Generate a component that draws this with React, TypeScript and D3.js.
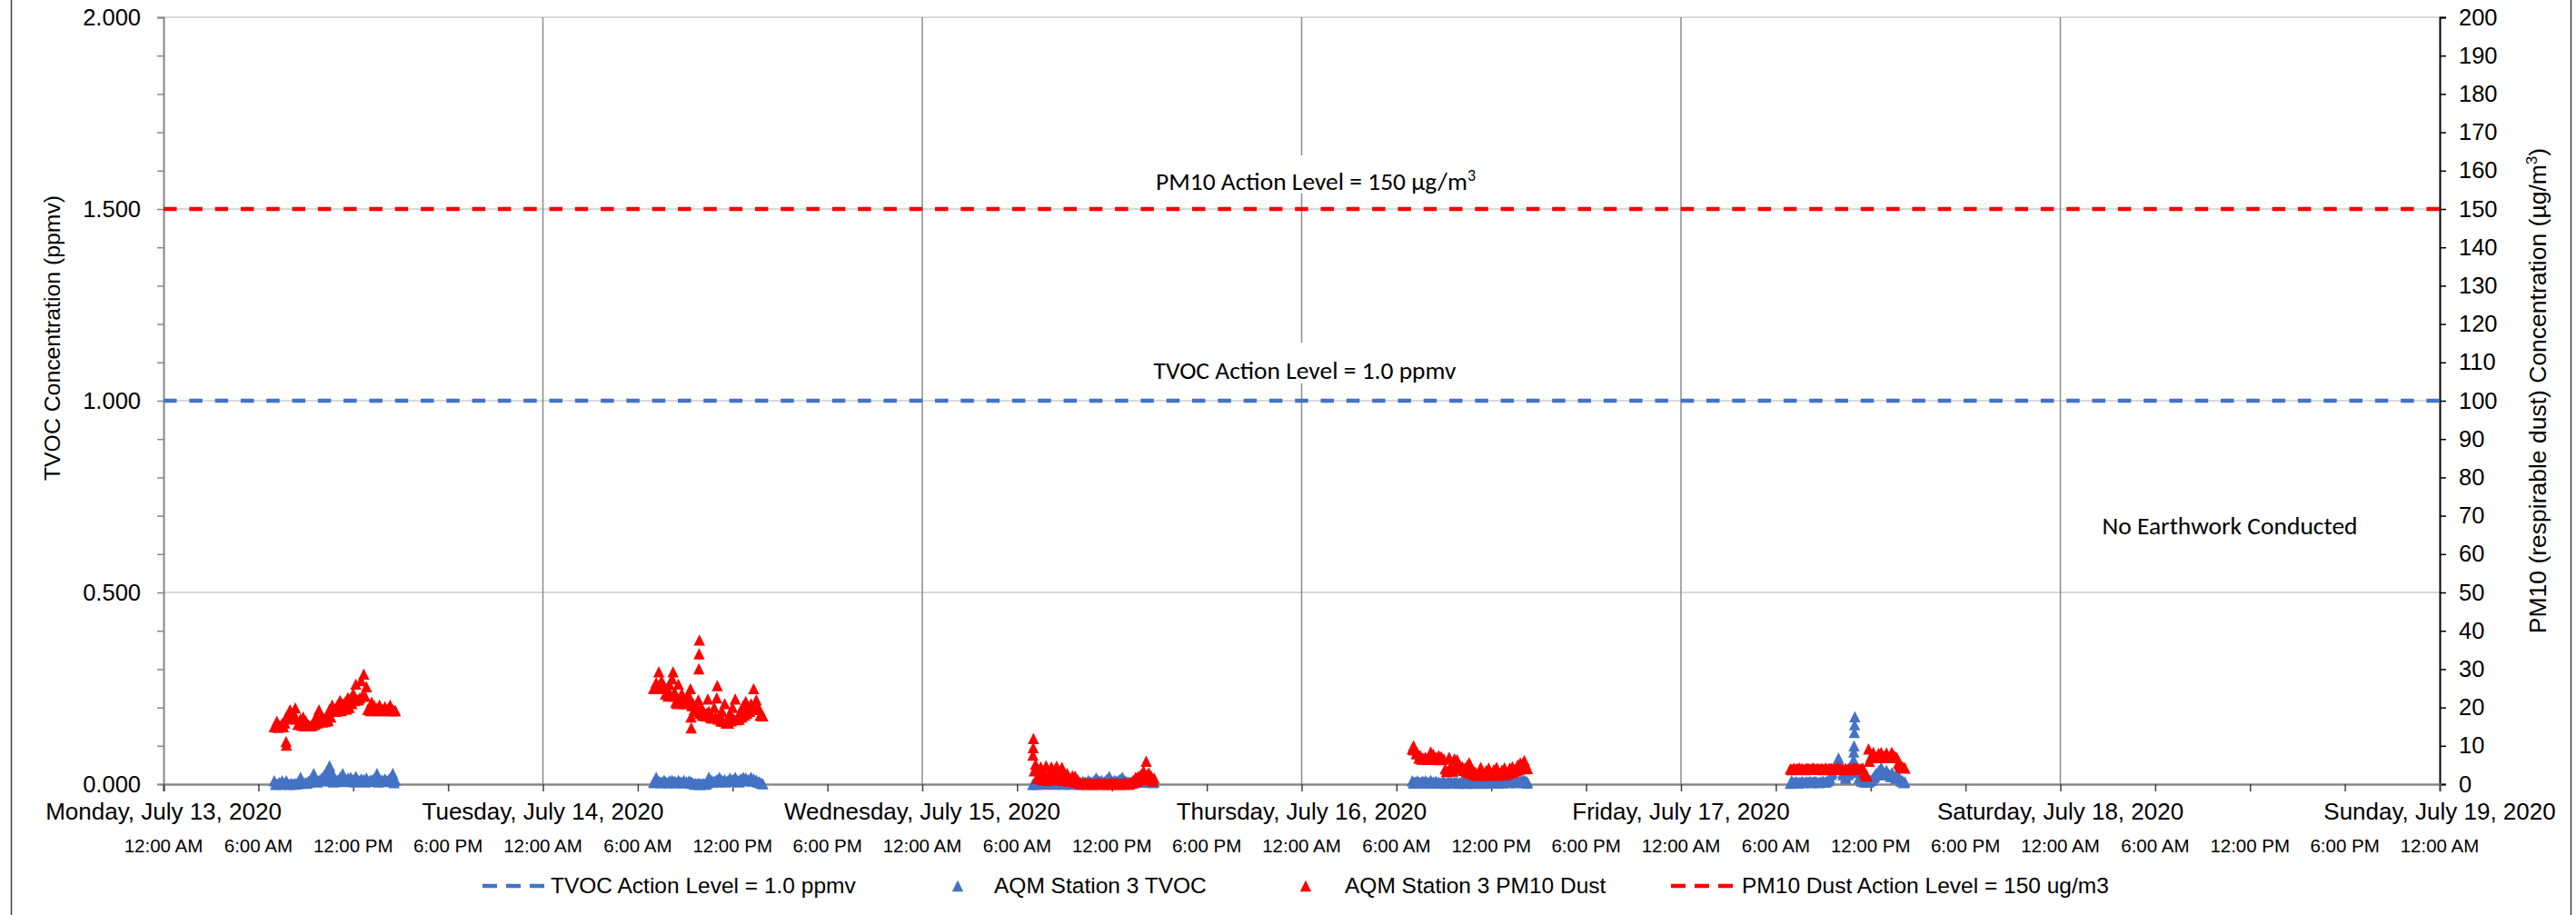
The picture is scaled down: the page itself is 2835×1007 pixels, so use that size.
import { useEffect, useRef } from "react"
import * as d3 from "d3"

const W = 2835
const H = 1007
const PLOT = { left: 180, right: 2685, top: 19, bottom: 863 }
const FONT = "'Liberation Sans', Arial, sans-serif"
const NOTE_FONT = "Carlito, Lato, sans-serif"
const BLUE = "#4472C4"
const RED = "#FF0000"

const START = new Date(2020, 6, 13)
const END = new Date(2020, 6, 19)

const tvocTicks = [0, 0.1, 0.2, 0.3, 0.4, 0.5, 0.6, 0.7, 0.8, 0.9, 1.0, 1.1, 1.2, 1.3, 1.4, 1.5, 1.6, 1.7, 1.8, 1.9, 2.0]
const tvocLabelTicks = [0, 0.5, 1.0, 1.5, 2.0]
const pm10Ticks = [0, 10, 20, 30, 40, 50, 60, 70, 80, 90, 100, 110, 120, 130, 140, 150, 160, 170, 180, 190, 200]

const tvocActionLevel = 1.0
const pm10ActionLevel = 150

// readings: minutes after midnight, per day (A = on the ten, B = on the five)
const monTimes = [420, 430, 440, 450, 460, 465, 466, 470, 480, 490, 500, 510, 520, 530, 540, 550, 560, 570, 580, 590, 600, 610, 620, 630, 640, 650, 660, 670, 680, 690, 700, 710, 720, 730, 740, 750, 760, 770, 780, 790, 800, 810, 820, 830, 840, 850, 860, 870, 880]
const monTvoc = [0.009, 0.0, 0.004, 0.009, 0.002, 0.006, 0.009, 0.003, 0.0, 0.001, 0.002, 0.004, 0.018, 0.005, 0.004, 0.008, 0.015, 0.028, 0.012, 0.01, 0.016, 0.024, 0.034, 0.048, 0.03, 0.014, 0.01, 0.018, 0.028, 0.012, 0.016, 0.018, 0.012, 0.02, 0.01, 0.014, 0.012, 0.016, 0.008, 0.01, 0.014, 0.028, 0.012, 0.01, 0.014, 0.008, 0.016, 0.028, 0.01]
const monPm10 = [15.0, 16.4, 15.2, 15.8, 16.0, 11.1, 10.2, 17.0, 19.4, 18.5, 19.9, 15.6, 17.0, 17.5, 16.4, 15.5, 15.2, 16.0, 17.8, 19.4, 17.5, 17.0, 17.8, 19.5, 20.6, 19.6, 20.6, 21.8, 21.0, 21.5, 22.6, 22.0, 23.7, 26.1, 22.0, 27.0, 28.7, 25.4, 19.5, 21.4, 20.5, 19.8, 20.6, 19.5, 20.2, 19.6, 20.6, 19.4, 19.2]
const monTimesB = [425, 435, 445, 455, 465, 475, 485, 495, 505, 515, 525, 535, 545, 555, 565, 575, 585, 595, 605, 615, 625, 635, 645, 655, 665, 675, 685, 695, 705, 715, 725, 735, 745, 755, 765, 775, 785, 795, 805, 815, 825, 835, 845, 855, 865, 875]
const monTvocB = [0.0, 0.002, 0.0, 0.003, 0.001, 0.0, 0.002, 0.0, 0.001, 0.002, 0.004, 0.002, 0.003, 0.006, 0.01, 0.008, 0.006, 0.009, 0.012, 0.02, 0.012, 0.008, 0.006, 0.01, 0.008, 0.009, 0.007, 0.01, 0.008, 0.011, 0.006, 0.009, 0.008, 0.01, 0.006, 0.008, 0.01, 0.012, 0.008, 0.006, 0.009, 0.007, 0.01, 0.012, 0.008, 0.004]
const monPm10B = [15.0, 14.8, 15.2, 15.0, 17.5, 17.8, 17.5, 18.0, 17.0, 15.6, 15.4, 15.2, 15.3, 15.2, 15.4, 15.6, 16.0, 16.4, 16.2, 16.4, 16.6, 17.5, 19.2, 19.0, 19.4, 19.2, 19.6, 19.6, 20.0, 21.0, 21.8, 22.0, 22.5, 23.0, 23.0, 19.5, 19.2, 19.4, 19.2, 19.3, 19.2, 19.4, 19.2, 19.3, 19.2, 19.2]

const tueTimes = [420, 430, 440, 450, 460, 470, 480, 490, 494, 500, 507, 514, 520, 527, 535, 545, 555, 560, 562, 563, 570, 580, 590, 592, 593, 594, 600, 610, 620, 626, 630, 640, 650, 660, 662, 670, 680, 690, 700, 710, 720, 730, 740, 750, 760, 770, 780, 790, 800, 810, 820, 830]
const tueTvoc = [0.005, 0.018, 0.008, 0.006, 0.01, 0.004, 0.009, 0.01, 0.006, 0.008, 0.004, 0.01, 0.006, 0.004, 0.01, 0.006, 0.009, 0.005, 0.004, 0.006, 0.003, 0.002, 0.001, 0.0, 0.002, 0.001, 0.0, 0.002, 0.001, 0.008, 0.018, 0.01, 0.008, 0.012, 0.008, 0.018, 0.01, 0.012, 0.008, 0.016, 0.012, 0.018, 0.01, 0.014, 0.018, 0.016, 0.012, 0.018, 0.014, 0.01, 0.006, 0.002]
const tuePm10 = [25.0, 26.5, 29.3, 27.0, 25.5, 24.9, 26.0, 27.5, 29.3, 24.0, 21.1, 26.1, 22.0, 23.7, 21.5, 22.5, 23.0, 24.9, 17.5, 14.7, 21.0, 20.5, 22.0, 30.1, 34.0, 37.6, 20.0, 19.0, 18.5, 22.2, 19.0, 17.3, 20.0, 22.5, 25.7, 18.0, 19.0, 21.0, 15.9, 18.5, 20.0, 22.2, 17.0, 19.0, 20.5, 21.6, 19.5, 21.0, 24.9, 22.0, 19.8, 17.9]
const tueTimesB = [425, 435, 445, 455, 465, 475, 485, 495, 505, 515, 525, 535, 545, 555, 565, 575, 585, 595, 605, 615, 625, 635, 645, 655, 665, 675, 685, 695, 705, 715, 725, 735, 745, 755, 765, 775, 785, 795, 805, 815, 825, 835]
const tueTvocB = [0.004, 0.006, 0.004, 0.005, 0.006, 0.004, 0.006, 0.005, 0.004, 0.006, 0.005, 0.004, 0.006, 0.004, 0.002, 0.0, 0.001, 0.0, 0.001, 0.0, 0.004, 0.008, 0.006, 0.008, 0.006, 0.009, 0.008, 0.006, 0.009, 0.008, 0.01, 0.008, 0.006, 0.01, 0.012, 0.009, 0.01, 0.008, 0.01, 0.006, 0.004, 0.001]
const tuePm10B = [25.0, 25.5, 26.0, 25.0, 23.5, 23.0, 23.2, 23.0, 21.5, 21.1, 21.2, 21.0, 21.1, 21.5, 20.5, 19.5, 19.0, 18.5, 18.0, 17.8, 18.5, 17.5, 17.3, 17.5, 17.0, 16.5, 16.4, 16.0, 15.9, 16.5, 17.0, 16.8, 17.0, 17.5, 18.0, 18.5, 19.0, 19.5, 19.8, 19.5, 18.0, 17.8]

const wedTimes = [420, 421, 422, 430, 440, 450, 460, 470, 480, 490, 500, 510, 520, 530, 540, 550, 560, 570, 580, 590, 600, 610, 620, 630, 640, 650, 660, 670, 680, 690, 700, 710, 720, 730, 740, 750, 760, 770, 780, 790, 800, 810, 820, 830, 840, 850, 860, 870, 880]
const wedTvoc = [0.0, 0.0, 0.0, 0.002, 0.004, 0.003, 0.006, 0.004, 0.003, 0.006, 0.004, 0.002, 0.004, 0.003, 0.005, 0.004, 0.003, 0.004, 0.006, 0.004, 0.003, 0.008, 0.005, 0.01, 0.006, 0.008, 0.016, 0.008, 0.01, 0.006, 0.012, 0.02, 0.008, 0.01, 0.006, 0.012, 0.018, 0.008, 0.006, 0.004, 0.006, 0.008, 0.009, 0.01, 0.008, 0.009, 0.01, 0.008, 0.006]
const wedPm10 = [7.6, 9.5, 11.9, 5.2, 2.0, 4.5, 3.0, 4.8, 1.8, 4.5, 3.2, 4.7, 2.2, 4.4, 3.0, 2.8, 1.5, 2.2, 2.1, 1.2, 0.5, 0.2, 0.4, 0.1, 0.3, 0.0, 0.2, 0.4, 0.1, 0.3, 0.0, 0.2, 0.5, 0.1, 0.3, 0.0, 0.2, 0.4, 0.1, 0.5, 1.0, 1.8, 2.1, 2.5, 3.5, 6.0, 3.0, 2.0, 1.6]
const wedTimesB = [425, 435, 445, 455, 465, 475, 485, 495, 505, 515, 525, 535, 545, 555, 565, 575, 585, 595, 605, 615, 625, 635, 645, 655, 665, 675, 685, 695, 705, 715, 725, 735, 745, 755, 765, 775, 785, 795, 805, 815, 825, 835, 845, 855, 865, 875]
const wedTvocB = [0.002, 0.0, 0.001, 0.003, 0.0, 0.002, 0.001, 0.003, 0.0, 0.002, 0.001, 0.0, 0.002, 0.001, 0.0, 0.002, 0.001, 0.0, 0.002, 0.004, 0.002, 0.006, 0.003, 0.01, 0.012, 0.006, 0.004, 0.008, 0.014, 0.01, 0.006, 0.008, 0.01, 0.014, 0.01, 0.006, 0.004, 0.003, 0.004, 0.006, 0.005, 0.006, 0.005, 0.007, 0.006, 0.004]
const wedPm10B = [3.5, 1.5, 3.0, 1.2, 2.5, 1.0, 3.0, 1.5, 2.5, 1.2, 2.8, 1.0, 1.5, 0.8, 1.0, 0.5, 0.8, 0.3, 0.0, 0.1, 0.0, 0.2, 0.0, 0.1, 0.0, 0.2, 0.0, 0.1, 0.0, 0.1, 0.0, 0.2, 0.0, 0.1, 0.0, 0.2, 0.0, 0.3, 0.5, 0.8, 1.2, 1.5, 2.2, 2.5, 1.2, 0.8]

const thuTimes = [420, 425, 430, 440, 450, 460, 470, 480, 490, 500, 510, 520, 530, 540, 550, 555, 560, 570, 580, 590, 600, 610, 620, 630, 636, 640, 650, 659, 670, 680, 690, 700, 710, 720, 730, 740, 750, 760, 770, 780, 790, 800, 810, 820, 830, 840, 845, 850, 857]
const thuTvoc = [0.009, 0.004, 0.006, 0.009, 0.005, 0.008, 0.009, 0.004, 0.01, 0.006, 0.008, 0.005, 0.004, 0.006, 0.003, 0.004, 0.005, 0.004, 0.006, 0.005, 0.004, 0.006, 0.005, 0.004, 0.004, 0.006, 0.005, 0.004, 0.005, 0.006, 0.004, 0.005, 0.006, 0.004, 0.007, 0.005, 0.006, 0.004, 0.006, 0.008, 0.005, 0.007, 0.009, 0.006, 0.008, 0.01, 0.007, 0.009, 0.006]
const thuPm10 = [9.2, 10.0, 9.0, 8.0, 7.5, 6.8, 7.0, 6.5, 8.4, 7.8, 7.0, 7.5, 7.2, 6.6, 3.3, 3.4, 7.0, 3.5, 6.6, 6.4, 5.0, 4.6, 4.2, 5.0, 5.6, 4.5, 3.6, 3.2, 2.5, 4.4, 2.6, 3.5, 4.2, 2.4, 3.8, 4.4, 2.8, 3.6, 4.3, 3.0, 4.2, 4.6, 3.8, 5.0, 5.6, 4.8, 6.2, 5.2, 4.1]
const thuTimesB = [425, 435, 445, 455, 465, 475, 485, 495, 505, 515, 525, 535, 545, 555, 565, 575, 585, 595, 605, 615, 625, 635, 645, 655, 665, 675, 685, 695, 705, 715, 725, 735, 745, 755, 765, 775, 785, 795, 805, 815, 825, 835, 845, 855]
const thuTvocB = [0.003, 0.005, 0.004, 0.006, 0.003, 0.005, 0.004, 0.003, 0.005, 0.004, 0.003, 0.005, 0.002, 0.003, 0.004, 0.003, 0.005, 0.002, 0.003, 0.004, 0.002, 0.003, 0.004, 0.002, 0.003, 0.004, 0.003, 0.002, 0.004, 0.003, 0.005, 0.004, 0.003, 0.005, 0.004, 0.006, 0.004, 0.005, 0.006, 0.004, 0.005, 0.006, 0.005, 0.003]
const thuPm10B = [9.0, 8.0, 6.8, 6.5, 6.6, 6.5, 6.8, 6.5, 6.6, 6.5, 6.4, 6.5, 4.0, 3.3, 4.5, 3.4, 4.8, 4.5, 4.0, 3.6, 3.2, 3.0, 2.8, 2.5, 2.3, 2.6, 2.3, 2.5, 2.4, 2.3, 2.6, 2.4, 2.3, 2.5, 2.6, 2.4, 2.8, 3.0, 3.2, 3.5, 3.8, 4.2, 4.0, 4.1]

const friTimes = [415, 420, 430, 440, 450, 460, 470, 480, 490, 500, 510, 520, 530, 540, 550, 560, 570, 580, 590, 598, 605, 615, 625, 635, 645, 655, 656, 657, 658, 659, 660, 670, 680, 690, 700, 705, 712, 720, 730, 740, 750, 760, 770, 780, 790, 800, 810, 820, 830, 840, 850]
const friTvoc = [0.002, 0.009, 0.004, 0.006, 0.005, 0.007, 0.005, 0.006, 0.008, 0.006, 0.007, 0.005, 0.006, 0.008, 0.006, 0.01, 0.025, 0.04, 0.055, 0.068, 0.05, 0.03, 0.02, 0.03, 0.045, 0.064, 0.084, 0.1, 0.135, 0.155, 0.176, 0.04, 0.02, 0.012, 0.01, 0.008, 0.006, 0.01, 0.017, 0.028, 0.035, 0.044, 0.03, 0.036, 0.025, 0.03, 0.02, 0.028, 0.015, 0.01, 0.006]
const friPm10 = [4.0, 3.8, 4.1, 3.9, 4.2, 4.0, 3.8, 4.1, 4.0, 4.2, 3.9, 4.1, 4.0, 3.8, 4.2, 4.0, 4.1, 3.9, 4.0, 4.2, 3.9, 4.0, 4.1, 3.8, 4.0, 4.2, 4.0, 3.9, 4.1, 4.0, 3.9, 4.1, 4.0, 4.2, 2.3, 2.1, 9.2, 7.0, 8.3, 6.9, 8.0, 8.3, 7.2, 8.2, 7.0, 8.3, 7.4, 6.9, 5.0, 4.5, 4.2]
const friTimesB = [425, 435, 445, 455, 465, 475, 485, 495, 505, 515, 525, 535, 545, 555, 565, 575, 585, 595, 605, 615, 625, 635, 645, 655, 665, 675, 685, 695, 705, 715, 725, 735, 745, 755, 765, 775, 785, 795, 805, 815, 825, 835, 845]
const friTvocB = [0.004, 0.006, 0.003, 0.005, 0.004, 0.006, 0.005, 0.004, 0.006, 0.005, 0.004, 0.006, 0.005, 0.008, 0.015, 0.03, 0.045, 0.06, 0.04, 0.025, 0.015, 0.025, 0.035, 0.05, 0.03, 0.015, 0.008, 0.006, 0.005, 0.008, 0.012, 0.02, 0.025, 0.03, 0.035, 0.025, 0.03, 0.02, 0.025, 0.015, 0.02, 0.008, 0.004]
const friPm10B = [4.0, 3.9, 4.1, 4.0, 3.9, 4.1, 4.0, 3.9, 4.1, 4.0, 3.9, 4.1, 4.0, 3.9, 4.1, 4.0, 3.9, 4.1, 4.0, 3.9, 4.0, 4.1, 3.9, 4.0, 4.1, 3.9, 4.0, 3.0, 2.3, 6.0, 6.9, 7.0, 6.9, 7.1, 6.9, 7.0, 6.9, 7.2, 6.9, 7.0, 5.5, 4.6, 4.4]

const dayOffsets = [0, 1, 2, 3, 4]
const dayTimes = [monTimes, tueTimes, wedTimes, thuTimes, friTimes]
const dayTvoc = [monTvoc, tueTvoc, wedTvoc, thuTvoc, friTvoc]
const dayPm10 = [monPm10, tuePm10, wedPm10, thuPm10, friPm10]
const dayTimesB = [monTimesB, tueTimesB, wedTimesB, thuTimesB, friTimesB]
const dayTvocB = [monTvocB, tueTvocB, wedTvocB, thuTvocB, friTvocB]
const dayPm10B = [monPm10B, tuePm10B, wedPm10B, thuPm10B, friPm10B]

const legendLabels = ["TVOC Action Level = 1.0 ppmv", "AQM Station 3 TVOC", "AQM Station 3 PM10 Dust", "PM10 Dust Action Level = 150 ug/m3"]

interface Pt { t: Date; v: number }

function buildSeries(times: number[][], values: number[][]): Pt[] {
  const out: Pt[] = []
  dayOffsets.forEach((off, k) => {
    times[k].forEach((m, i) => {
      out.push({ t: new Date(2020, 6, 13 + off, 0, m), v: values[k][i] })
    })
  })
  return out
}

const TRI = "M0,-6.2L6.2,6.2L-6.2,6.2Z"

export default function App() {
  const svgRef = useRef<SVGSVGElement>(null)

  useEffect(() => {
    if (!svgRef.current) return
    const svg = d3.select(svgRef.current)
    svg.selectAll("*").remove()

    const x = d3.scaleTime().domain([START, END]).range([PLOT.left, PLOT.right])
    const yL = d3.scaleLinear().domain([0, 2]).range([PLOT.bottom, PLOT.top])
    const yR = d3.scaleLinear().domain([0, 200]).range([PLOT.bottom, PLOT.top])

    svg.append("rect").attr("width", W).attr("height", H).attr("fill", "#fff")
    // outer chart frame
    svg.append("rect").attr("x", 12.5).attr("y", -3).attr("width", 2817).attr("height", H + 6)
      .attr("fill", "none").attr("stroke", "#404040").attr("stroke-width", 1.5)

    // gridlines
    svg.append("g").selectAll("line").data(tvocLabelTicks.filter((v) => v > 0)).join("line")
      .attr("x1", PLOT.left).attr("x2", PLOT.right)
      .attr("y1", (d) => yL(d)).attr("y2", (d) => yL(d))
      .attr("stroke", "#d9d9d9").attr("stroke-width", 2)
    const midnights = x.ticks(d3.timeDay.every(1)!)
    svg.append("g").selectAll("line").data(midnights.slice(1, -1)).join("line")
      .attr("x1", (d) => x(d)).attr("x2", (d) => x(d))
      .attr("y1", PLOT.top).attr("y2", PLOT.bottom)
      .attr("stroke", "#8c8c8c").attr("stroke-width", 1.5)

    // white boxes behind the action level notes
    svg.append("rect").attr("x", 1250).attr("y", 171).attr("width", 400).attr("height", 42).attr("fill", "#fff")
    svg.append("rect").attr("x", 1245).attr("y", 377).attr("width", 385).attr("height", 45).attr("fill", "#fff")

    // left axis
    const gl = svg.append("g").attr("transform", `translate(${PLOT.left},0)`)
      .call(d3.axisLeft(yL).tickValues(tvocTicks).tickSize(7).tickPadding(18)
        .tickFormat((d) => (tvocLabelTicks.some((t) => Math.abs(t - +d) < 1e-6) ? d3.format(".3f")(+d) : "")))
    gl.select(".domain").attr("stroke", "#868686").attr("stroke-width", 2)
    gl.selectAll(".tick line").attr("stroke", "#868686").attr("stroke-width", 1.5)
    gl.selectAll("text").attr("font-size", 25.5).attr("font-family", FONT).attr("fill", "#000")

    // right axis
    const gr = svg.append("g").attr("transform", `translate(${PLOT.right},0)`)
      .call(d3.axisRight(yR).tickValues(pm10Ticks).tickSize(7).tickPadding(14))
    gr.select(".domain").attr("stroke", "#000").attr("stroke-width", 2)
    gr.selectAll(".tick line").attr("stroke", "#000").attr("stroke-width", 1.5)
    gr.selectAll("text").attr("font-size", 25.5).attr("font-family", FONT).attr("fill", "#000")

    // bottom axis
    const hourTicks = x.ticks(d3.timeHour.every(6)!)
    const gx = svg.append("g").attr("transform", `translate(0,${PLOT.bottom})`)
      .call(d3.axisBottom(x).tickValues(hourTicks).tickSize(8).tickFormat(() => ""))
    gx.select(".domain").attr("stroke", "#868686").attr("stroke-width", 2.5)
    gx.selectAll(".tick line").attr("stroke", "#404040").attr("stroke-width", 1.5)

    const fmtHour = d3.timeFormat("%-I:%M %p")
    const fmtDay = d3.timeFormat("%A, %B %-d, %Y")
    svg.append("g").selectAll("text").data(hourTicks).join("text")
      .attr("x", (d) => x(d)).attr("y", 938).attr("text-anchor", "middle")
      .attr("font-family", FONT).attr("font-size", 20.5).attr("fill", "#000")
      .text((d) => fmtHour(d))
    svg.append("g").selectAll("text").data(midnights).join("text")
      .attr("x", (d) => x(d)).attr("y", 902).attr("text-anchor", "middle")
      .attr("font-family", FONT).attr("font-size", 26).attr("fill", "#000")
      .text((d) => fmtDay(d))

    // axis titles
    svg.append("text").attr("transform", "translate(66,372) rotate(-90)")
      .attr("text-anchor", "middle").attr("font-family", FONT).attr("font-size", 24.8).attr("fill", "#000")
      .text("TVOC Concentration (ppmv)")
    const rt = svg.append("text").attr("transform", "translate(2802,430) rotate(-90)")
      .attr("text-anchor", "middle").attr("font-family", FONT).attr("font-size", 26.5).attr("fill", "#000")
    rt.append("tspan").text("PM10 (respirable dust) Concentration (µg/m")
    rt.append("tspan").attr("font-size", 17).attr("dy", -10).text("3")
    rt.append("tspan").attr("dy", 10).text(")")

    // action levels
    svg.append("line").attr("x1", x(START)).attr("x2", x(END))
      .attr("y1", yL(tvocActionLevel)).attr("y2", yL(tvocActionLevel))
      .attr("stroke", BLUE).attr("stroke-width", 4.5).attr("stroke-dasharray", "14.5,13.8")
    svg.append("line").attr("x1", x(START)).attr("x2", x(END))
      .attr("y1", yR(pm10ActionLevel)).attr("y2", yR(pm10ActionLevel))
      .attr("stroke", RED).attr("stroke-width", 4.5).attr("stroke-dasharray", "14.5,13.8")

    // scatter series
    const tvocPts = buildSeries(dayTimes, dayTvoc).concat(buildSeries(dayTimesB, dayTvocB))
    const pm10Pts = buildSeries(dayTimes, dayPm10).concat(buildSeries(dayTimesB, dayPm10B))
    svg.append("g").selectAll("path").data(tvocPts).join("path")
      .attr("d", TRI).attr("fill", BLUE)
      .attr("transform", (d) => `translate(${x(d.t)},${yL(d.v)})`)
    svg.append("g").selectAll("path").data(pm10Pts).join("path")
      .attr("d", TRI).attr("fill", RED)
      .attr("transform", (d) => `translate(${x(d.t)},${yR(d.v)})`)

    // notes
    const n1 = svg.append("text").attr("x", 1448).attr("y", 209).attr("text-anchor", "middle")
      .attr("font-family", NOTE_FONT).attr("font-size", 27.5).attr("fill", "#000")
    n1.append("tspan").text("PM10 Action Level = 150 µg/m")
    n1.append("tspan").attr("font-size", 18).attr("dy", -10).text("3")
    svg.append("text").attr("x", 1436).attr("y", 417).attr("text-anchor", "middle")
      .attr("font-family", NOTE_FONT).attr("font-size", 27.5).attr("fill", "#000")
      .text("TVOC Action Level = 1.0 ppmv")
    svg.append("text").attr("x", 2454).attr("y", 588).attr("text-anchor", "middle")
      .attr("font-family", NOTE_FONT).attr("font-size", 27.5).attr("fill", "#000")
      .text("No Earthwork Conducted")

    // legend
    const lg = svg.append("g").attr("font-family", FONT).attr("font-size", 24.5).attr("fill", "#000")
    const ly = 975
    lg.append("line").attr("x1", 531).attr("x2", 600).attr("y1", ly).attr("y2", ly)
      .attr("stroke", BLUE).attr("stroke-width", 4.5).attr("stroke-dasharray", "16,10")
    lg.append("text").attr("x", 606).attr("y", 983).text(legendLabels[0])
    lg.append("path").attr("d", TRI).attr("fill", BLUE).attr("transform", `translate(1054,${ly})`)
    lg.append("text").attr("x", 1094).attr("y", 983).text(legendLabels[1])
    lg.append("path").attr("d", TRI).attr("fill", RED).attr("transform", `translate(1437,${ly})`)
    lg.append("text").attr("x", 1480).attr("y", 983).text(legendLabels[2])
    lg.append("line").attr("x1", 1839).attr("x2", 1909).attr("y1", ly).attr("y2", ly)
      .attr("stroke", RED).attr("stroke-width", 4.5).attr("stroke-dasharray", "16,10")
    lg.append("text").attr("x", 1917).attr("y", 983).text(legendLabels[3])
  }, [])

  return (
    <svg ref={svgRef} width={W} height={H}
      style={{ position: "absolute", left: 0, top: 0, display: "block" }} />
  )
}
